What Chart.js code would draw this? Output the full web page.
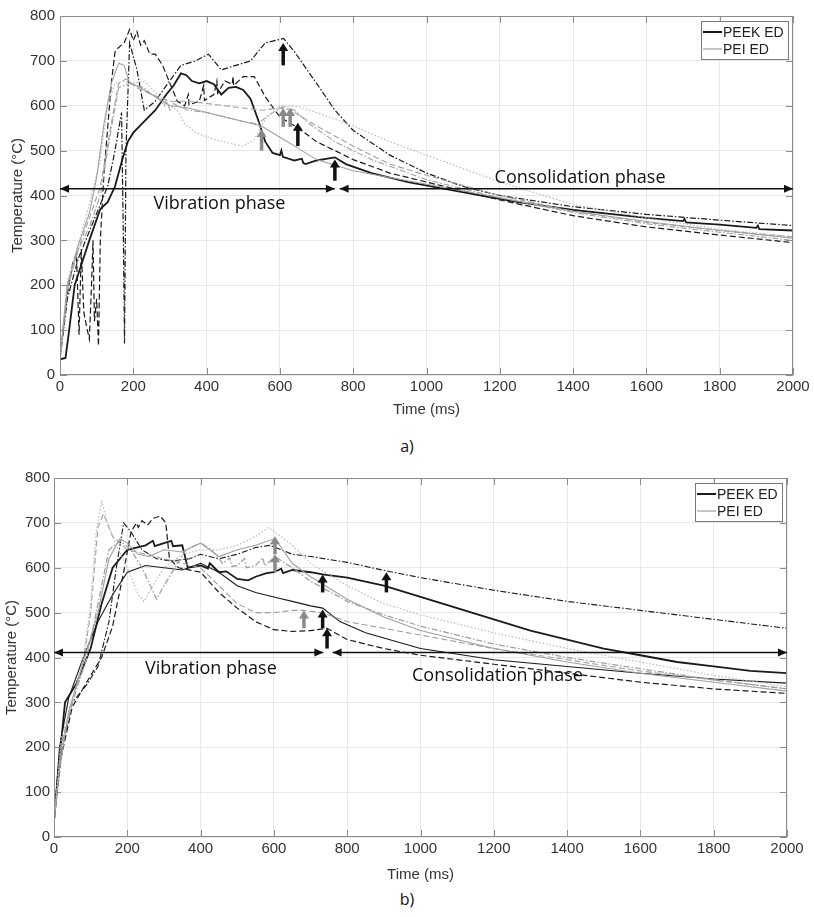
<!DOCTYPE html>
<html>
<head>
<meta charset="utf-8">
<script src="https://cdn.jsdelivr.net/npm/chart.js@4.4.1/dist/chart.umd.min.js"></script>
<style>
  body { margin: 0; background: #fff; width: 814px; height: 917px; position: relative; overflow: hidden; }
  .wrap { position: absolute; left: 0; width: 814px; height: 425px; }
  .cap { position: absolute; width: 814px; text-align: center; font: 16px "Open Sans", sans-serif; color: #111; }
</style>
</head>
<body>
<div class="wrap" style="top:0"><canvas id="chartA" width="814" height="425"></canvas></div>
<div class="cap" style="top:435px">a)</div>
<div class="wrap" style="top:462px"><canvas id="chartB" width="814" height="425"></canvas></div>
<div class="cap" style="top:888px">b)</div>
<script>
// ---------------- data (time ms, temperature °C) ----------------
const xTicks = [0, 200, 400, 600, 800, 1000, 1200, 1400, 1600, 1800, 2000];
const yTicks = [0, 100, 200, 300, 400, 500, 600, 700, 800];
const legendLabels = ['PEEK ED', 'PEI ED'];

// a) PEEK
const a_peek1 = [[0,35],[15,38],[25,100],[40,200],[60,250],[80,300],[110,370],[130,385],[150,420],[170,480],[185,520],[200,540],[230,565],[260,590],[290,625],[310,645],[330,672],[345,668],[360,655],[380,650],[400,655],[420,648],[440,625],[460,640],[480,642],[500,635],[520,615],[540,570],[560,520],[580,495],[600,490],[604,500],[608,486],[640,478],[660,482],[664,472],[670,470],[700,478],[730,482],[750,485],[780,470],[850,450],[950,430],[1050,415],[1150,400],[1250,385],[1400,368],[1600,350],[1700,343],[1704,348],[1708,340],[1800,335],[1900,328],[1904,333],[1908,325],[2000,322]];
const a_peek2 = [[0,35],[20,170],[50,260],[100,360],[130,420],[150,500],[168,585],[173,300],[176,70],[180,500],[190,740],[210,680],[230,590],[260,610],[290,645],[330,690],[370,700],[405,715],[440,680],[480,690],[520,700],[560,740],[610,750],[640,720],[700,650],[750,590],[800,545],[900,490],[1000,450],[1100,420],[1200,400],[1400,375],[1600,358],[1800,345],[2000,333]];
const a_peek3 = [[0,40],[20,180],[35,250],[45,270],[52,90],[58,280],[65,140],[72,110],[80,80],[86,200],[90,300],[94,120],[100,170],[105,65],[110,300],[120,450],[140,650],[150,720],[160,730],[175,740],[190,770],[200,745],[210,765],[220,735],[230,745],[245,715],[260,715],[280,690],[300,650],[320,610],[340,600],[350,625],[352,602],[380,610],[392,645],[394,612],[420,625],[428,655],[430,628],[450,655],[470,648],[472,665],[474,645],[500,665],[530,665],[560,620],[600,575],[650,550],[700,520],[800,480],[900,450],[1000,430],[1200,390],[1400,355],[1600,330],[1800,312],[2000,295]];
// a) PEI
const a_pei1 = [[0,35],[20,200],[50,290],[80,360],[100,440],[120,560],[140,650],[160,695],[175,690],[190,650],[220,640],[260,620],[300,600],[350,595],[400,585],[450,575],[500,565],[550,555],[600,530],[650,505],[700,480],[800,455],[1000,425],[1200,395],[1400,365],[1600,342],[1800,322],[2000,305]];
const a_pei2 = [[0,35],[20,210],[50,290],[80,380],[110,480],[130,600],[150,650],[170,655],[200,650],[230,655],[260,630],[290,605],[320,590],[340,560],[370,540],[420,525],[470,515],[500,510],[530,525],[560,570],[600,600],[650,598],[700,585],[800,555],[900,520],[1000,490],[1100,460],[1200,430],[1400,380],[1600,350],[1800,325],[2000,308]];
const a_pei3 = [[0,35],[20,200],[50,280],[80,350],[110,420],[140,560],[160,650],[180,660],[210,640],[250,625],[300,610],[350,610],[400,605],[450,600],[500,595],[550,590],[600,595],[630,590],[650,580],[700,555],[800,510],[900,470],[1000,445],[1200,400],[1400,365],[1600,340],[1800,322],[2000,308]];
const a_pei4 = [[0,35],[20,190],[50,280],[80,330],[110,400],[140,550],[160,640],[190,650],[230,640],[250,625],[270,615],[285,600],[290,612],[300,590],[310,605],[320,600],[350,590],[400,585],[450,575],[500,565],[540,560],[570,580],[610,598],[640,590],[680,560],[750,520],[850,480],[1000,435],[1200,395],[1400,362],[1600,337],[1800,318],[2000,300]];

// b) PEEK
const b_peek1 = [[0,35],[10,130],[30,300],[60,340],[100,420],[130,520],[160,600],[200,640],[250,650],[270,660],[275,648],[300,655],[320,660],[325,648],[350,650],[365,600],[400,605],[420,598],[425,610],[450,590],[470,592],[500,575],[530,572],[550,580],[580,588],[600,590],[620,598],[625,588],[650,595],[700,590],[733,585],[800,578],[900,560],[1000,535],[1100,510],[1200,485],[1300,460],[1400,440],[1500,420],[1600,405],[1700,390],[1800,380],[1900,370],[2000,365]];
const b_peek2 = [[0,35],[20,190],[50,300],[90,340],[120,380],[150,480],[170,600],[190,700],[210,680],[240,640],[280,620],[320,615],[370,620],[400,630],[450,620],[500,630],[550,645],[590,650],[620,640],[650,630],[700,625],[800,612],[907,593],[1000,578],[1200,550],[1400,525],[1600,505],[1800,485],[2000,465]];
const b_peek3 = [[0,35],[15,200],[40,310],[80,400],[120,480],[160,540],[200,590],[250,605],[300,600],[350,595],[400,610],[450,590],[500,560],[550,545],[600,535],[650,525],[700,515],[733,510],[780,480],[850,455],[1000,420],[1200,395],[1400,380],[1600,365],[1800,352],[2000,343]];
const b_peek4 = [[0,35],[20,180],[50,290],[100,360],[130,400],[160,470],[190,590],[210,680],[225,700],[230,690],[240,705],[255,695],[270,710],[290,715],[305,700],[315,620],[340,600],[400,590],[450,545],[500,510],[550,480],[600,462],[650,458],[700,460],[745,465],[800,440],[900,420],[1000,405],[1200,385],[1400,365],[1600,345],[1800,330],[2000,320]];
// b) PEI
const b_pei1 = [[0,35],[20,220],[50,300],[80,400],[100,520],[115,680],[130,750],[145,700],[170,650],[200,600],[230,540],[245,525],[270,560],[300,600],[350,630],[400,640],[450,640],[500,650],[550,670],[585,690],[610,675],[650,650],[700,610],[800,560],[900,520],[1000,495],[1200,455],[1400,420],[1600,390],[1800,360],[2000,335]];
const b_pei2 = [[0,35],[20,210],[50,300],[80,390],[100,500],[120,690],[135,720],[160,670],[200,640],[250,630],[300,620],[350,610],[400,600],[450,560],[500,520],[550,500],[600,500],[650,505],[682,505],[730,500],[800,480],[900,465],[1000,450],[1200,420],[1400,395],[1600,370],[1800,350],[2000,330]];
const b_pei3 = [[0,35],[15,150],[40,280],[80,390],[120,500],[150,620],[180,665],[200,655],[230,630],[260,625],[300,640],[350,635],[400,655],[450,625],[500,640],[550,650],[603,665],[650,610],[700,580],[800,530],[900,490],[1000,460],[1200,420],[1400,390],[1600,365],[1800,345],[2000,325]];
const b_pei4 = [[0,35],[20,200],[50,300],[90,400],[120,520],[150,640],[180,660],[210,640],[240,600],[280,530],[300,560],[330,600],[360,640],[400,655],[430,640],[460,610],[480,622],[485,603],[500,605],[520,620],[525,600],[550,605],[570,622],[575,604],[603,625],[650,600],[700,570],[800,525],[900,495],[1000,470],[1200,430],[1400,400],[1600,375],[1800,350],[2000,330]];

// arrows: [time, base temp, tip temp]
const a_arrowsBlack = [[609,690,740],[649,510,562],[750,433,480]];
const a_arrowsGray = [[550,500,548],[609,553,595],[628,553,595]];
const b_arrowsBlack = [[733,545,585],[733,465,507],[745,420,465],[907,545,590]];
const b_arrowsGray = [[603,630,670],[603,590,630],[682,465,505]];

// phase arrows: [from, to, temp]
const a_phases = [[0,750,415],[763,2000,415]];
const b_phases = [[0,735,411],[760,2000,411]];
// phase text: [label, time, temp]
const a_phaseText = [['Vibration phase',435,382],['Consolidation phase',1419,440]];
const b_phaseText = [['Vibration phase',428,374],['Consolidation phase',1210,358]];

// ---------------------------------------------------------------
const BLACK = '#1a1a1a', GRAY = '#a0a0a0', LGRAY = '#bababa';
const SOLID = [], DASH = [6,3], DOT = [1.5,2], DASHDOT = [6,2,1.5,2];
const TICK_FONT = { size: 15, family: '"Liberation Sans", Arial' };

function mk(pairs, color, width, dash) {
  return {
    data: pairs.map(p => ({ x: p[0], y: p[1] })),
    borderColor: color, borderWidth: width, borderDash: dash,
    pointRadius: 0, tension: 0, fill: false
  };
}

function drawArrow(ctx, x, yBase, yTip, color) {
  ctx.save();
  ctx.fillStyle = color;
  ctx.strokeStyle = color;
  ctx.lineWidth = 3.5;
  ctx.beginPath();
  ctx.moveTo(x, yBase);
  ctx.lineTo(x, yTip + 7);
  ctx.stroke();
  ctx.beginPath();
  ctx.moveTo(x - 5, yTip + 8);
  ctx.lineTo(x + 5, yTip + 8);
  ctx.lineTo(x, yTip);
  ctx.closePath();
  ctx.fill();
  ctx.restore();
}

function head(ctx, x, y, dir) {
  ctx.beginPath();
  ctx.moveTo(x, y);
  ctx.lineTo(x - dir * 9, y - 4);
  ctx.lineTo(x - dir * 9, y + 4);
  ctx.closePath();
  ctx.fill();
}

const overlay = {
  id: 'overlay',
  afterDatasetsDraw(chart, args, o) {
    const { ctx, chartArea: ca, scales: { x, y } } = chart;
    ctx.save();
    // frame + inward ticks
    ctx.strokeStyle = '#8c8c8c';
    ctx.lineWidth = 1;
    ctx.strokeRect(ca.left + 0.5, ca.top + 0.5, ca.width - 1, ca.height - 1);
    ctx.beginPath();
    xTicks.forEach(v => {
      const px = Math.round(x.getPixelForValue(v)) + 0.5;
      ctx.moveTo(px, ca.bottom); ctx.lineTo(px, ca.bottom - 7);
      ctx.moveTo(px, ca.top); ctx.lineTo(px, ca.top + 7);
    });
    yTicks.forEach(v => {
      const py = Math.round(y.getPixelForValue(v)) + 0.5;
      ctx.moveTo(ca.left, py); ctx.lineTo(ca.left + 7, py);
      ctx.moveTo(ca.right, py); ctx.lineTo(ca.right - 7, py);
    });
    ctx.stroke();

    // phase arrows
    ctx.strokeStyle = '#111';
    ctx.fillStyle = '#111';
    ctx.lineWidth = 1.4;
    o.phases.forEach(([t0, t1, T]) => {
      const x0 = x.getPixelForValue(t0), x1 = x.getPixelForValue(t1), py = y.getPixelForValue(T);
      ctx.beginPath(); ctx.moveTo(x0, py); ctx.lineTo(x1, py); ctx.stroke();
      head(ctx, x0, py, -1);
      head(ctx, x1, py, 1);
    });
    ctx.font = '18px "Open Sans", sans-serif';
    ctx.textAlign = 'center';
    ctx.textBaseline = 'middle';
    o.phaseText.forEach(([s, t, T]) => ctx.fillText(s, x.getPixelForValue(t), y.getPixelForValue(T)));

    // arrows
    o.black.forEach(([t, b, tip]) => drawArrow(ctx, x.getPixelForValue(t), y.getPixelForValue(b), y.getPixelForValue(tip), '#111'));
    o.gray.forEach(([t, b, tip]) => drawArrow(ctx, x.getPixelForValue(t), y.getPixelForValue(b), y.getPixelForValue(tip), '#8a8a8a'));

    // legend box
    const lx = ca.right - 92, ly = ca.top + 5, lw = 87, lh = 38;
    ctx.fillStyle = '#fff';
    ctx.fillRect(lx, ly, lw, lh);
    ctx.strokeStyle = '#7a7a7a';
    ctx.lineWidth = 1;
    ctx.strokeRect(lx + 0.5, ly + 0.5, lw, lh);
    ctx.font = '14px "Liberation Sans", Arial, sans-serif';
    ctx.textAlign = 'left';
    ctx.fillStyle = '#222';
    [[BLACK, 2], [GRAY, 1.2]].forEach(([c, w], i) => {
      const ry = ly + 11 + i * 17;
      ctx.strokeStyle = c; ctx.lineWidth = w;
      ctx.beginPath(); ctx.moveTo(lx + 2, ry); ctx.lineTo(lx + 21, ry); ctx.stroke();
      ctx.fillText(legendLabels[i], lx + 22, ry + 1);
    });

    // axis titles
    ctx.fillStyle = '#333';
    ctx.font = '15px "Liberation Sans", Arial, sans-serif';
    ctx.textAlign = 'center';
    ctx.fillText('Time (ms)', (ca.left + ca.right) / 2, o.xTitleY);
    ctx.translate(o.yTitleX, (ca.top + ca.bottom) / 2);
    ctx.rotate(-Math.PI / 2);
    ctx.fillText('Temperature (°C)', 0, 0);
    ctx.restore();
  }
};

function makeChart(id, datasets, yWidth, padRight, tickPad, extra) {
  return new Chart(document.getElementById(id), {
    type: 'line',
    data: { datasets },
    options: {
      responsive: false,
      animation: false,
      layout: { padding: { top: 16, right: padRight, left: 0, bottom: 0 } },
      scales: {
        x: {
          type: 'linear', min: 0, max: 2000,
          afterFit: s => { s.height = 50; },
          afterBuildTicks: s => { s.ticks = xTicks.map(v => ({ value: v })); },
          grid: { color: '#e8e8e8', drawTicks: false },
          border: { display: false },
          ticks: { padding: 3, color: '#333', font: TICK_FONT, callback: v => String(v) }
        },
        y: {
          min: 0, max: 800,
          afterFit: s => { s.width = yWidth; },
          afterBuildTicks: s => { s.ticks = yTicks.map(v => ({ value: v })); },
          grid: { color: '#e8e8e8', drawTicks: false },
          border: { display: false },
          ticks: { padding: tickPad, color: '#333', font: TICK_FONT, callback: v => String(v) }
        }
      },
      plugins: { legend: { display: false }, tooltip: { enabled: false }, overlay: extra }
    },
    plugins: [overlay]
  });
}

makeChart('chartA', [
  mk(a_pei1, GRAY, 1.1, SOLID),
  mk(a_pei2, LGRAY, 1.2, DOT),
  mk(a_pei3, GRAY, 1.1, DASH),
  mk(a_pei4, GRAY, 1.1, DASHDOT),
  mk(a_peek3, BLACK, 1.2, DASH),
  mk(a_peek2, BLACK, 1.2, DASHDOT),
  mk(a_peek1, BLACK, 1.8, SOLID)
], 60, 21, 5, {
  black: a_arrowsBlack, gray: a_arrowsGray, phases: a_phases, phaseText: a_phaseText,
  xTitleY: 410, yTitleX: 18
});

makeChart('chartB', [
  mk(b_pei1, LGRAY, 1.2, DOT),
  mk(b_pei2, GRAY, 1.1, DASH),
  mk(b_pei3, GRAY, 1.1, SOLID),
  mk(b_pei4, GRAY, 1.3, DASHDOT),
  mk(b_peek4, BLACK, 1.2, DASH),
  mk(b_peek3, BLACK, 1.1, SOLID),
  mk(b_peek2, BLACK, 1.1, DASHDOT),
  mk(b_peek1, BLACK, 1.8, SOLID)
], 54, 27, 4, {
  black: b_arrowsBlack, gray: b_arrowsGray, phases: b_phases, phaseText: b_phaseText,
  xTitleY: 413, yTitleX: 12
});
</script>
</body>
</html>
